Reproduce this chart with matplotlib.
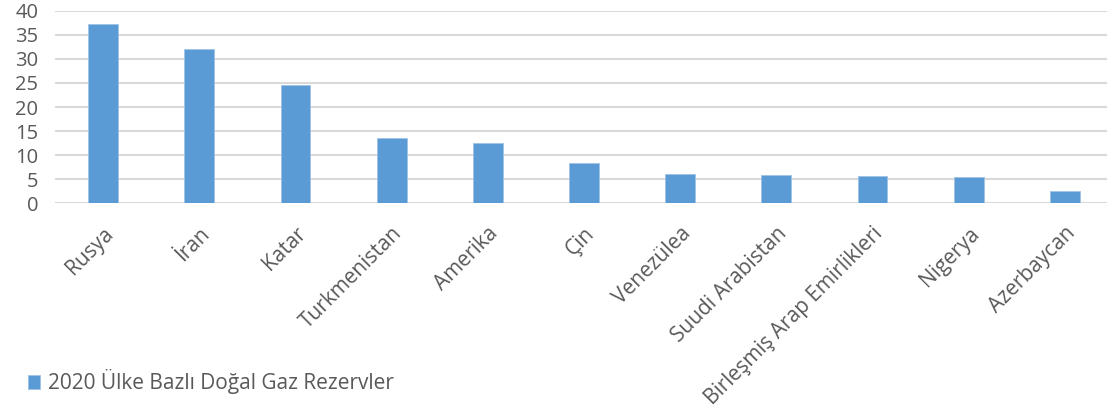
import matplotlib
matplotlib.use('Agg')
import matplotlib.pyplot as plt

countries = ['Rusya', 'İran', 'Katar', 'Turkmenistan', 'Amerika', 'Çin',
             'Venezülea', 'Suudi Arabistan', 'Birleşmiş Arap Emirlikleri',
             'Nigerya', 'Azerbaycan']
reserves = [37.3, 32.0, 24.6, 13.5, 12.5, 8.3, 6.2, 5.9, 5.8, 5.4, 2.5]
y_ticks = [0, 5, 10, 15, 20, 25, 30, 35, 40]
series_name = '2020 Ülke Bazlı Doğal Gaz Rezervler'

text_color = '#595959'
bar_color = '#5b9bd5'

plt.rcParams['font.family'] = ['Open Sans', 'DejaVu Sans']

fig = plt.figure(figsize=(11.07, 4.09), dpi=100)
ax = fig.add_axes([55 / 1107, 1 - 203.5 / 409, 1058 / 1107, (203.5 - 10.7) / 409])

x = list(range(len(countries)))
bars = ax.bar(x, reserves, width=0.31, color=bar_color, edgecolor='#9dc3e6',
              linewidth=0.6, zorder=3, label=series_name)

ax.set_ylim(0, 40)
ax.set_xlim(-0.5, len(countries) - 0.5)
ax.set_yticks(y_ticks)
ax.yaxis.grid(True, color='#d9d9d9', linewidth=1.5, zorder=0)
ax.set_axisbelow(True)
for s in ax.spines.values():
    s.set_visible(False)
ax.tick_params(axis='both', length=0, colors=text_color)
ax.tick_params(axis='y', pad=12, labelsize=14.5)
ax.set_xticks(x)
ax.set_xticklabels(countries, rotation=45, ha='right', rotation_mode='anchor',
                   fontsize=15)
ax.tick_params(axis='x', pad=14)

fig.legend(handles=[bars], labels=[series_name], loc='lower left',
           bbox_to_anchor=(0.008, -0.01), frameon=False, fontsize=15,
           handlelength=0.6, handleheight=0.6, handletextpad=0.4,
           labelcolor=text_color)

fig.savefig('out.png', dpi=100)
